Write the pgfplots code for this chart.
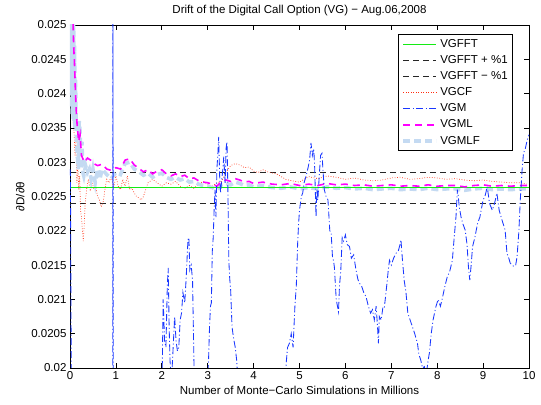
\documentclass[border=0pt]{standalone}
\usepackage{pgfplots}
\pgfplotsset{compat=1.18}
\usepackage{fontspec}
\setmainfont{Liberation Sans}
\definecolor{vgmlf}{RGB}{196,218,242}
\definecolor{vgm}{RGB}{25,55,255}
\definecolor{vgcf}{RGB}{255,45,15}
\definecolor{fftgreen}{RGB}{20,235,20}
\definecolor{vgml}{RGB}{255,0,255}
\tikzset{
  sFFT/.style={fftgreen, line width=0.9pt},
  sPM/.style={black!85, line width=0.8pt, dash pattern=on 6pt off 4pt},
  sCF/.style={vgcf, line width=0.7pt, dash pattern=on 0.7pt off 1.8pt},
  sM/.style={vgm, line width=0.85pt, dash pattern=on 7pt off 2.5pt on 1pt off 2.5pt},
  sML/.style={vgml, line width=1.6pt, dash pattern=on 7pt off 5pt},
  sMLF/.style={vgmlf, line width=3.6pt, dash pattern=on 7pt off 4pt},
}
\begin{document}
\begin{tikzpicture}
\begin{axis}[
  scale only axis, width=459pt, height=343pt,
  xmin=0, xmax=10, ymin=0.02, ymax=0.025,
  xtick={0,1,2,3,4,5,6,7,8,9,10},
  ytick={0.02,0.0205,0.021,0.0215,0.022,0.0225,0.023,0.0235,0.024,0.0245,0.025},
  yticklabels={0.02,0.0205,0.021,0.0215,0.022,0.0225,0.023,0.0235,0.024,0.0245,0.025},
  scaled y ticks=false,
  /pgf/number format/assume math mode=true,
  tick align=inside, xtick pos=both, ytick pos=both,
  major tick length=5pt,
  tick style={black, line width=0.6pt},
  axis line style={black, line width=0.6pt},
  every axis/.append style={font=\fontsize{11.5}{13}\selectfont},
  ticklabel style={font=\fontsize{11.5}{13}\selectfont},
  label style={font=\fontsize{11.5}{13}\selectfont},
  title style={font=\fontsize{11.5}{13}\selectfont},
  title={Drift of the Digital Call Option (VG) − Aug.06,2008},
  xlabel={Number of Monte−Carlo Simulations in Millions},
  ylabel={∂D/∂θ},
  legend style={at={(1,1)}, anchor=north east, xshift=-16pt, yshift=-9pt,
    draw=black, line width=0.6pt, fill=white,
    font=\fontsize{11.5}{13}\selectfont, row sep=2.6pt, inner xsep=3pt, inner ysep=3pt},
  legend cell align=left,
  legend image code/.code={\draw[#1] (0pt,0pt) -- (33pt,0pt);},
]
\coordinate (LL) at (rel axis cs:0,0);
\coordinate (UR) at (rel axis cs:1,1);
% +/- 1%
\addplot[sPM, forget plot] coordinates {(0,0.022856) (10,0.022856)};
\addplot[sPM, forget plot] coordinates {(0,0.022404) (10,0.022404)};
% VGCF
\addplot[sCF, forget plot] coordinates {
(0.05,0.0238) (0.07,0.0236) (0.09,0.0234) (0.11,0.0231) (0.13,0.0233) (0.15,0.0227)
(0.17,0.0230) (0.19,0.0226) (0.21,0.0228) (0.23,0.0223) (0.25,0.0222) (0.27,0.0220)
(0.29,0.02185) (0.31,0.0221) (0.33,0.0224) (0.36,0.0226) (0.40,0.02275) (0.44,0.0226)
(0.48,0.0227) (0.52,0.02262) (0.56,0.02265) (0.6,0.0225) (0.64,0.02245) (0.68,0.02235)
(0.72,0.0224) (0.76,0.0226) (0.8,0.02275) (0.85,0.0227) (0.9,0.0228) (0.95,0.02262)
(1.0,0.0228) (1.05,0.02265) (1.1,0.0226) (1.15,0.02275) (1.2,0.02265) (1.25,0.0228)
(1.3,0.0226) (1.35,0.02262) (1.4,0.02255) (1.45,0.0225) (1.5,0.02248) (1.55,0.02245)
(1.6,0.0225) (1.65,0.0226) (1.7,0.0227) (1.8,0.02275) (1.9,0.0227) (2.0,0.02265)
(2.1,0.0227) (2.2,0.02268) (2.3,0.02272) (2.4,0.02265) (2.5,0.02262) (2.6,0.02266)
(2.7,0.02262) (2.8,0.02268) (2.9,0.02272) (3.0,0.02268) (3.1,0.02265) (3.2,0.0227)
(3.3,0.02272) (3.4,0.02285) (3.5,0.02295) (3.6,0.02298) (3.7,0.02296) (3.8,0.02292)
(3.9,0.02293) (4.0,0.02287) (4.1,0.02285) (4.2,0.02289) (4.3,0.02286) (4.5,0.02283)
(4.7,0.02275) (4.9,0.02272) (5.0,0.02271) (5.2,0.02279) (5.4,0.02276) (5.6,0.02280)
(5.8,0.02278) (6.0,0.02275) (6.2,0.02277) (6.4,0.02274) (6.6,0.02273) (6.8,0.02274)
(7.0,0.02277) (7.2,0.02278) (7.4,0.02275) (7.6,0.02276) (7.8,0.02278) (8.0,0.02277)
(8.2,0.02275) (8.4,0.02276) (8.6,0.02274) (8.8,0.02273) (9.0,0.02274) (9.2,0.02272)
(9.4,0.02271) (9.6,0.02270) (9.8,0.0227) (9.95,0.02268)
};
% VGMLF
\addplot[sMLF, forget plot] coordinates {
(0,0.0262) (0.01,0.0240) (0.02,0.0256) (0.03,0.0238) (0.04,0.0254) (0.05,0.0237)
(0.06,0.0252) (0.07,0.0236) (0.08,0.0250) (0.09,0.0236) (0.10,0.0247) (0.11,0.0235)
(0.12,0.0242) (0.14,0.0233) (0.16,0.0231) (0.18,0.0229) (0.20,0.0236) (0.22,0.02345)
(0.24,0.0229) (0.26,0.0233) (0.28,0.02285) (0.30,0.0228) (0.34,0.02295) (0.38,0.02285)
(0.42,0.0229) (0.46,0.02275)
(0.5,0.0229) (0.55,0.0227) (0.6,0.0229) (0.65,0.02275) (0.7,0.0229) (0.8,0.02282)
(0.9,0.02276) (1.0,0.02285) (1.1,0.02282) (1.2,0.02298) (1.3,0.02300) (1.4,0.02290)
(1.5,0.02286) (1.6,0.02281) (1.7,0.02284) (1.8,0.02278) (1.9,0.02282) (2.0,0.02284)
(2.1,0.02278) (2.2,0.02275) (2.3,0.02278) (2.4,0.02274) (2.5,0.02276) (2.6,0.02271)
(2.7,0.02272) (2.8,0.02268) (2.9,0.02266) (3.0,0.02265) (3.1,0.02263) (3.2,0.0226)
(3.3,0.02267) (3.4,0.02269) (3.5,0.02267) (3.6,0.02271) (3.7,0.02269) (3.8,0.02266)
(3.9,0.02267) (4.0,0.02264) (4.2,0.02266) (4.4,0.02263) (4.6,0.02262) (4.8,0.02264)
(5.0,0.02261) (5.2,0.02263) (5.4,0.02261) (5.6,0.02264) (5.8,0.02262) (6.0,0.02263)
(6.2,0.02261) (6.4,0.02262) (6.6,0.0226) (6.8,0.02261) (7.0,0.02262) (7.2,0.0226)
(7.4,0.02261) (7.6,0.0226) (7.8,0.02262) (8.0,0.0226) (8.2,0.02261) (8.4,0.02261)
(8.6,0.02259) (8.8,0.02261) (9.0,0.02262) (9.2,0.0226) (9.4,0.02261) (9.6,0.0226)
(9.8,0.02261) (10.0,0.02261)
};
% VGFFT
\addplot[sFFT, forget plot] coordinates {(0,0.02263) (10,0.02263)};
% VGML
\addplot[sML, forget plot] coordinates {
(0.06,0.0252) (0.08,0.0247) (0.10,0.0244) (0.12,0.0240) (0.14,0.0237) (0.16,0.0235)
(0.19,0.0233) (0.22,0.0234) (0.25,0.0231) (0.28,0.02305) (0.32,0.0230) (0.38,0.02306)
(0.45,0.02303) (0.52,0.02298) (0.6,0.02295) (0.7,0.02297) (0.8,0.02290) (0.9,0.02288)
(1.0,0.02292) (1.1,0.02290) (1.2,0.02303) (1.3,0.02305) (1.4,0.02296) (1.5,0.02291)
(1.6,0.02286) (1.7,0.02289) (1.8,0.02283) (1.9,0.02287) (2.0,0.02289) (2.1,0.02283)
(2.2,0.02280) (2.3,0.02283) (2.4,0.02279) (2.5,0.02281) (2.6,0.02276) (2.7,0.02277)
(2.8,0.02273) (2.9,0.02271) (3.0,0.02270) (3.1,0.02268) (3.2,0.02265) (3.3,0.02272)
(3.4,0.02274) (3.5,0.02272) (3.6,0.02276) (3.7,0.02274) (3.8,0.02271) (3.9,0.02272)
(4.0,0.02269) (4.2,0.02271) (4.4,0.02268) (4.6,0.02267) (4.8,0.02269) (5.0,0.02266)
(5.2,0.02268) (5.4,0.02266) (5.6,0.02269) (5.8,0.02267) (6.0,0.02268) (6.2,0.02266)
(6.4,0.02267) (6.6,0.02265) (6.8,0.02266) (7.0,0.02267) (7.2,0.02265) (7.4,0.02266)
(7.6,0.02265) (7.8,0.02267) (8.0,0.02265) (8.2,0.02266) (8.4,0.02266) (8.6,0.02264)
(8.8,0.02266) (9.0,0.02267) (9.2,0.02265) (9.4,0.02266) (9.6,0.02265) (9.8,0.02266)
(10.0,0.02266)
};
% VGM
\addplot[sM, forget plot] coordinates {
(0.0,0.0229) (0.01,0.0228) (0.03,0.0195) (0.5,0.0185) (0.93,0.019) (0.936,0.0262)
(0.942,0.019) (1.5,0.0185) (2.0,0.0195)
(2.03,0.0210) (2.06,0.0204) (2.09,0.0203) (2.12,0.0212) (2.14,0.02146) (2.16,0.0206)
(2.18,0.0201) (2.21,0.0198) (2.24,0.0202) (2.28,0.02075) (2.31,0.0204) (2.34,0.02025)
(2.37,0.0203) (2.40,0.0207) (2.43,0.0208) (2.46,0.0211) (2.50,0.02095) (2.53,0.0213)
(2.57,0.02187) (2.59,0.0219) (2.61,0.02143) (2.64,0.0215) (2.67,0.02128) (2.69,0.0205)
(2.71,0.0197) (2.85,0.0190) (3.0,0.0198) (3.02,0.02015) (3.04,0.0206) (3.06,0.0209)
(3.08,0.02095) (3.10,0.0217) (3.12,0.0219) (3.14,0.0223) (3.16,0.0226) (3.18,0.0222)
(3.20,0.0229) (3.22,0.0231) (3.24,0.02337) (3.26,0.0228) (3.28,0.02255) (3.30,0.0227)
(3.33,0.0229) (3.35,0.02308) (3.38,0.0227) (3.40,0.0232) (3.42,0.0233) (3.44,0.0226)
(3.46,0.02157) (3.48,0.0213) (3.50,0.02114) (3.53,0.0206) (3.55,0.0205) (3.57,0.02041)
(3.60,0.0203) (3.63,0.02012) (3.66,0.0198) (4.0,0.0190) (4.69,0.0197) (4.71,0.02007)
(4.74,0.0203) (4.78,0.02036) (4.82,0.0205) (4.86,0.0203) (4.90,0.0209) (4.93,0.02119)
(4.96,0.02182) (4.98,0.0221) (5.00,0.0223) (5.04,0.0225) (5.07,0.02255) (5.10,0.0227)
(5.14,0.02279) (5.18,0.0229) (5.22,0.02303) (5.25,0.02328) (5.28,0.0231) (5.31,0.0232)
(5.33,0.02294) (5.36,0.0222) (5.38,0.0226) (5.40,0.02245) (5.43,0.0228) (5.46,0.0231)
(5.49,0.02313) (5.51,0.0229) (5.54,0.0226) (5.58,0.0225) (5.62,0.02245) (5.66,0.0220)
(5.69,0.02197) (5.72,0.0216) (5.74,0.02157) (5.76,0.02147) (5.80,0.0210) (5.83,0.02089)
(5.85,0.02082) (5.87,0.02118) (5.90,0.02143) (5.93,0.0219) (5.96,0.02185) (6.00,0.02194)
(6.04,0.0218) (6.09,0.02177) (6.13,0.0216) (6.18,0.02165) (6.23,0.02143) (6.27,0.0213)
(6.30,0.02124) (6.35,0.0212) (6.40,0.0211) (6.45,0.02104) (6.50,0.0209) (6.55,0.0208)
(6.59,0.02085) (6.63,0.0207) (6.67,0.0209) (6.70,0.0206) (6.72,0.02036) (6.74,0.02075)
(6.78,0.0207) (6.82,0.0209) (6.85,0.02089) (6.90,0.0212) (6.93,0.0214) (6.96,0.02157)
(7.00,0.0215) (7.05,0.0216) (7.10,0.02167) (7.15,0.0217) (7.19,0.0218) (7.21,0.02187)
(7.24,0.0216) (7.28,0.02128) (7.32,0.0211) (7.36,0.0208) (7.41,0.0207) (7.46,0.0206)
(7.51,0.0205) (7.57,0.02036) (7.60,0.0202) (7.64,0.02012) (7.68,0.0200) (7.72,0.02002)
(7.76,0.0199) (7.80,0.0201) (7.83,0.02022) (7.87,0.0205) (7.91,0.0207) (7.97,0.02089)
(8.02,0.0210) (8.07,0.0209) (8.12,0.02104) (8.17,0.0212) (8.22,0.02133) (8.27,0.0214)
(8.33,0.02157) (8.37,0.0219) (8.41,0.02221) (8.44,0.0226) (8.46,0.0225) (8.48,0.02235)
(8.52,0.0222) (8.56,0.0221) (8.61,0.02201) (8.65,0.0218) (8.68,0.02148) (8.71,0.02128)
(8.74,0.0215) (8.77,0.02177) (8.82,0.0219) (8.88,0.02211) (8.93,0.0222) (9.00,0.02245)
(9.04,0.0225) (9.09,0.02264) (9.14,0.0224) (9.20,0.0223) (9.25,0.0224) (9.30,0.02255)
(9.35,0.0223) (9.41,0.02216) (9.48,0.02201) (9.52,0.02167) (9.56,0.0216) (9.59,0.02153)
(9.63,0.0215) (9.67,0.02148) (9.71,0.0215) (9.74,0.02162) (9.78,0.0220) (9.81,0.02245)
(9.85,0.02289) (9.88,0.02313) (9.92,0.0232) (9.96,0.02332) (10.0,0.0234)
};
\addlegendimage{sFFT}\addlegendentry{VGFFT}
\addlegendimage{sPM}\addlegendentry{VGFFT + \%1}
\addlegendimage{sPM}\addlegendentry{VGFFT − \%1}
\addlegendimage{sCF}\addlegendentry{VGCF}
\addlegendimage{sM}\addlegendentry{VGM}
\addlegendimage{sML}\addlegendentry{VGML}
\addlegendimage{sMLF}\addlegendentry{VGMLF}
\end{axis}
\path ([shift={(-70pt,-37pt)}]LL) rectangle ([shift={(12pt,25pt)}]UR);
\end{tikzpicture}
\end{document}
